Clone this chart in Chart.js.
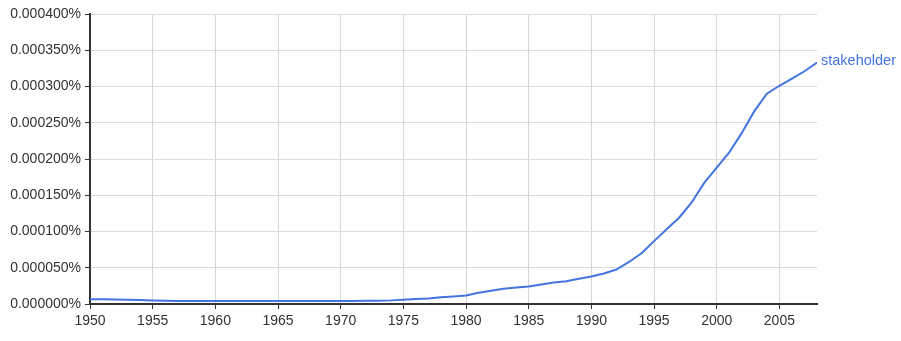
<!DOCTYPE html>
<html lang="en">
<head>
  <meta charset="UTF-8" />
  <title>stakeholder ngram</title>
  <script src="https://cdn.jsdelivr.net/npm/chart.js"></script>
  <style>
    html, body { margin: 0; padding: 0; background: #fff; }
    #wrap { width: 901px; height: 341px; position: relative; }
  </style>
</head>
<body>
<div id="wrap"><canvas id="ngram"></canvas></div>
<script>
  const years = [];
  for (let y = 1950; y <= 2008; y++) years.push(y);
  const xTicks = [1950, 1955, 1960, 1965, 1970, 1975, 1980, 1985, 1990, 1995, 2000, 2005];

  // frequency in percent
  const stakeholder = [
    0.0000066, 0.0000064, 0.0000062, 0.0000060, 0.0000054,
    0.0000048, 0.0000044, 0.0000043, 0.0000042, 0.0000041,
    0.0000040, 0.0000040, 0.0000040, 0.0000040, 0.0000041,
    0.0000042, 0.0000042, 0.0000042, 0.0000042, 0.0000042,
    0.0000043, 0.0000043, 0.0000044, 0.0000046, 0.0000050,
    0.0000058, 0.0000068, 0.0000076, 0.0000094, 0.0000105,
    0.0000117, 0.0000154, 0.0000182, 0.0000210, 0.0000228,
    0.0000241, 0.0000269, 0.0000297, 0.0000315, 0.0000347,
    0.0000379, 0.0000420, 0.0000476, 0.0000580, 0.0000700,
    0.0000867, 0.0001030, 0.0001190, 0.0001400, 0.0001670,
    0.0001880, 0.0002090, 0.0002360, 0.0002660, 0.0002900,
    0.0003010, 0.0003110, 0.0003210, 0.0003330
  ];
  const seriesName = 'stakeholder';
  const lineColor = '#4374e0';
  const tickFont = { family: '"Liberation Sans", Arial, sans-serif', size: 14 };

  const endLabel = {
    id: 'endLabel',
    afterDatasetsDraw(chart) {
      const { ctx, scales } = chart;
      const i = years.length - 1;
      const x = scales.x.getPixelForValue(years[i]);
      const y = scales.y.getPixelForValue(stakeholder[i]);
      ctx.save();
      ctx.font = '14.5px "Liberation Sans", Arial, sans-serif';
      ctx.fillStyle = lineColor;
      ctx.textBaseline = 'middle';
      ctx.fillText(seriesName, x + 4, y - 2);
      ctx.restore();
    }
  };

  new Chart(document.getElementById('ngram'), {
    type: 'line',
    data: {
      datasets: [{
        label: seriesName,
        data: years.map((yr, i) => ({ x: yr, y: stakeholder[i] })),
        borderColor: lineColor,
        borderWidth: 2,
        pointRadius: 0,
        tension: 0,
        fill: false
      }]
    },
    options: {
      animation: false,
      responsive: true,
      maintainAspectRatio: false,
      layout: { padding: { left: 0, top: 14, right: 84, bottom: 0 } },
      plugins: { legend: { display: false }, tooltip: { enabled: false } },
      scales: {
        x: {
          type: 'linear',
          min: 1950,
          max: 2008,
          afterBuildTicks: s => { s.ticks = xTicks.map(v => ({ value: v })); },
          afterFit: s => { s.height = 37; },
          ticks: {
            color: '#333',
            padding: 4,
            maxRotation: 0,
            autoSkip: false,
            font: tickFont,
            callback: v => String(v)
          },
          grid: { color: '#d6d6d6', tickColor: '#333', tickLength: 5 },
          border: { color: '#333', width: 2 }
        },
        y: {
          min: 0,
          max: 0.0004,
          afterFit: s => { s.width = 90; },
          ticks: {
            stepSize: 0.00005,
            color: '#333',
            padding: 4,
            font: tickFont,
            callback: v => Number(v).toFixed(6) + '%'
          },
          grid: { color: '#dcdcdc', tickColor: '#333', tickLength: 5 },
          border: { color: '#333', width: 2 }
        }
      }
    },
    plugins: [endLabel]
  });
</script>
</body>
</html>
